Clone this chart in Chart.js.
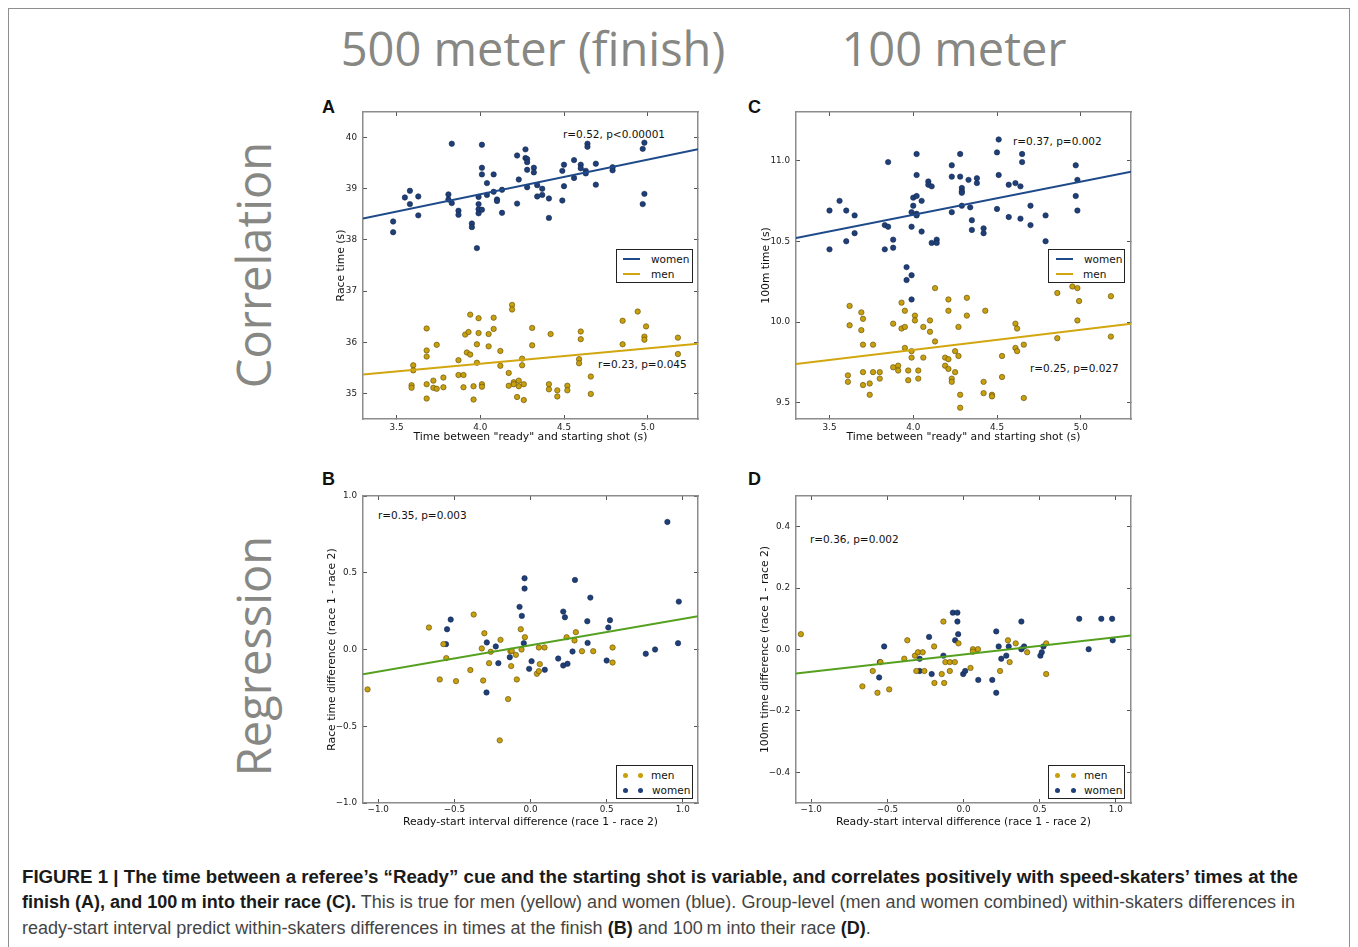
<!DOCTYPE html>
<html>
<head>
<meta charset="utf-8">
<title>Figure 1</title>
<script src="https://cdn.jsdelivr.net/npm/chart.js@4.4.1/dist/chart.umd.min.js"></script>
<style>
  html, body { margin: 0; padding: 0; background: #fff; }
  body { position: relative; width: 1358px; height: 947px; overflow: hidden; font-family: 'DejaVu Sans', sans-serif; }
  #frame { position: absolute; left: 8px; top: 8px; width: 1342px; height: 1000px; border: 1px solid #8e8e8e; box-sizing: border-box; }
  .big { position: absolute; font-family: 'Open Sans', sans-serif; font-size: 47px; line-height: 47px; color: #878784; white-space: nowrap; }
  .head { transform: translateX(-50%); }
  .rot { transform: translate(-50%, -50%) rotate(-90deg); }
  .letter { position: absolute; font-family: 'Liberation Sans', sans-serif; font-weight: bold; font-size: 18px; line-height: 18px; color: #111; }
  .note { position: absolute; font-size: 10.5px; line-height: 12px; color: #111; white-space: nowrap; }
  .legend { position: absolute; width: 77px; height: 34px; border: 1px solid #222; background: #fff; box-sizing: border-box; }
  .legend span { position: absolute; font-size: 10.5px; line-height: 12px; color: #111; white-space: nowrap; }
  .legend i { position: absolute; width: 17px; height: 0; border-top: 2px solid; }
  .legend b { position: absolute; width: 5px; height: 5px; border-radius: 50%; margin: -2.5px 0 0 -2.5px; }
  .cap { position: absolute; left: 22px; font-family: 'Liberation Sans Narrow', 'Liberation Sans', sans-serif; font-size: 17.5px; line-height: 20px; white-space: nowrap; color: #454545; transform-origin: 0 50%; }
  .cap b { color: #1a1a1a; }
  canvas { position: absolute; }
</style>
</head>
<body>
<div id="frame"></div>

<div class="big head" style="left:533px;top:25px">500 meter (finish)</div>
<div class="big head" style="left:954px;top:25px">100 meter</div>
<div class="big rot" style="left:253px;top:265px">Correlation</div>
<div class="big rot" style="left:253px;top:656px">Regression</div>

<div class="letter" style="left:322px;top:98px">A</div>
<div class="letter" style="left:748px;top:98px">C</div>
<div class="letter" style="left:322px;top:470px">B</div>
<div class="letter" style="left:748px;top:470px">D</div>

<div class="note" style="left:563px;top:128px">r=0.52, p&lt;0.00001</div>
<div class="note" style="left:598px;top:358px">r=0.23, p=0.045</div>
<div class="note" style="left:1013px;top:135px">r=0.37, p=0.002</div>
<div class="note" style="left:1030px;top:362px">r=0.25, p=0.027</div>
<div class="note" style="left:378px;top:509px">r=0.35, p=0.003</div>
<div class="note" style="left:810px;top:533px">r=0.36, p=0.002</div>

<div class="legend" style="left:616px;top:249px">
  <i style="left:6px;top:8px;border-color:#1f4a8a"></i><span style="left:34px;top:3px">women</span>
  <i style="left:6px;top:23px;border-color:#d1a60f"></i><span style="left:34px;top:18px">men</span>
</div>
<div class="legend" style="left:1048px;top:249px">
  <i style="left:7px;top:8px;border-color:#1f4a8a"></i><span style="left:35px;top:3px">women</span>
  <i style="left:7px;top:23px;border-color:#d1a60f"></i><span style="left:34px;top:18px">men</span>
</div>
<div class="legend" style="left:616px;top:765px">
  <b style="left:8px;top:9px;background:#c89f0c"></b><b style="left:23px;top:9px;background:#c89f0c"></b><span style="left:34px;top:3px">men</span>
  <b style="left:8px;top:24px;background:#1e3f78"></b><b style="left:23px;top:24px;background:#1e3f78"></b><span style="left:35px;top:18px">women</span>
</div>
<div class="legend" style="left:1048px;top:765px">
  <b style="left:8px;top:9px;background:#c89f0c"></b><b style="left:24px;top:9px;background:#c89f0c"></b><span style="left:35px;top:3px">men</span>
  <b style="left:8px;top:24px;background:#1e3f78"></b><b style="left:24px;top:24px;background:#1e3f78"></b><span style="left:35px;top:18px">women</span>
</div>

<div class="cap" style="top:867px"><b>FIGURE 1 | The time between a referee’s “Ready” cue and the starting shot is variable, and correlates positively with speed-skaters’ times at the</b></div>
<div class="cap" style="top:892px"><b>finish (A), and 100&#8201;m into their race (C).</b> This is true for men (yellow) and women (blue). Group-level (men and women combined) within-skaters differences in</div>
<div class="cap" style="top:918px">ready-start interval predict within-skaters differences in times at the finish <b>(B)</b> and 100&#8201;m into their race <b>(D)</b>.</div>

<script>
// ---- panel A: 500 m, correlation ----
const aWomenX = [3.48,3.48,3.55,3.58,3.58,3.63,3.63,3.81,3.81,3.83,3.83,3.87,3.87,3.95,3.95,3.98,3.99,3.99,3.99,3.99,4.01,4.01,4.01,4.01,4.04,4.04,4.08,4.08,4.10,4.10,4.13,4.13,4.22,4.23,4.22,4.27,4.27,4.28,4.28,4.28,4.28,4.32,4.32,4.34,4.34,4.37,4.37,4.41,4.41,4.49,4.49,4.50,4.50,4.56,4.56,4.60,4.60,4.63,4.63,4.64,4.64,4.69,4.69,4.79,4.79,4.97,4.98,4.98,4.97];
const aWomenY = [38.36,38.15,38.83,38.96,38.70,38.85,38.48,38.89,38.79,39.88,38.72,38.57,38.49,38.32,38.25,37.84,38.52,38.60,38.70,38.84,38.59,39.86,39.41,39.28,39.11,38.88,39.28,38.94,38.79,38.76,38.98,38.53,39.65,39.18,38.71,39.77,39.60,39.58,39.52,39.37,39.03,39.41,39.32,39.07,38.85,39.00,38.88,38.81,38.43,39.35,38.77,39.47,39.05,39.56,39.21,39.47,39.40,39.35,39.30,39.88,39.82,39.49,39.08,39.42,39.36,39.78,39.90,38.90,38.70];
const aMenX = [3.59,3.59,3.60,3.60,3.68,3.68,3.68,3.68,3.68,3.72,3.72,3.74,3.74,3.78,3.78,3.87,3.87,3.90,3.90,3.91,3.92,3.93,3.94,3.94,3.96,3.96,3.98,3.98,3.99,3.99,4.01,4.01,4.05,4.05,4.08,4.08,4.12,4.12,4.17,4.17,4.19,4.19,4.20,4.20,4.22,4.23,4.23,4.25,4.25,4.26,4.26,4.31,4.31,4.41,4.41,4.42,4.46,4.46,4.52,4.52,4.60,4.60,4.59,4.59,4.66,4.66,4.85,4.85,4.94,4.99,4.98,4.98,5.18,5.18];
const aMenY = [35.16,35.11,35.55,35.45,36.27,35.84,35.72,35.18,34.90,35.25,35.11,35.95,35.09,35.31,35.12,35.65,35.36,35.36,35.12,36.15,35.80,36.20,36.54,35.76,35.14,34.88,35.96,35.60,36.47,36.18,35.18,35.13,36.16,35.92,36.48,36.26,35.83,35.54,35.40,35.15,36.73,36.64,35.22,35.18,34.93,35.25,35.14,35.68,35.55,35.18,34.87,36.28,35.94,35.18,35.08,36.16,35.06,34.94,35.15,35.06,36.21,36.06,35.67,35.59,35.33,34.99,36.42,35.96,36.60,36.31,36.11,36.05,36.09,35.77];
const aFitX = [3.3, 5.3];
const aWomenFitY = [38.42, 39.77];
const aMenFitY = [35.37, 35.97];
const aXRange = [3.3, 5.3];
const aYRange = [34.5, 40.5];
const aXTicks = [3.5, 4.0, 4.5, 5.0];
const aYTicks = [35, 36, 37, 38, 39, 40];

// ---- panel C: 100 m, correlation ----
const cWomenX = [3.50,3.50,3.56,3.60,3.60,3.65,3.65,3.83,3.85,3.85,3.83,3.88,3.88,3.96,3.96,3.99,3.99,3.99,3.99,4.00,4.00,4.02,4.02,4.02,4.02,4.02,4.05,4.05,4.09,4.09,4.11,4.11,4.14,4.14,4.23,4.23,4.23,4.28,4.28,4.29,4.29,4.29,4.29,4.33,4.34,4.35,4.35,4.38,4.38,4.42,4.42,4.50,4.51,4.51,4.50,4.57,4.57,4.61,4.64,4.64,4.65,4.65,4.70,4.70,4.79,4.79,4.97,4.98,4.97,4.98];
const cWomenY = [10.69,10.45,10.75,10.69,10.50,10.66,10.55,10.60,10.99,10.59,10.45,10.51,10.46,10.34,10.26,10.29,10.14,10.68,10.59,10.77,10.72,11.04,10.91,10.78,10.67,10.66,10.75,10.56,10.87,10.85,10.84,10.49,10.51,10.49,10.68,10.97,10.90,11.04,10.90,10.83,10.81,10.80,10.72,10.88,10.71,10.63,10.57,10.89,10.86,10.58,10.55,11.05,11.13,10.91,10.70,10.85,10.65,10.86,10.84,10.64,11.04,10.99,10.72,10.60,10.66,10.50,10.97,10.88,10.78,10.69];
const cMenX = [3.62,3.62,3.61,3.61,3.69,3.70,3.69,3.70,3.70,3.70,3.74,3.74,3.76,3.76,3.80,3.80,3.88,3.88,3.91,3.91,3.93,3.93,3.95,3.95,3.95,3.97,3.97,3.99,3.99,4.01,4.01,4.03,4.03,4.06,4.06,4.10,4.10,4.13,4.13,4.19,4.19,4.21,4.21,4.21,4.21,4.23,4.23,4.25,4.25,4.27,4.27,4.28,4.28,4.32,4.32,4.43,4.42,4.42,4.47,4.47,4.53,4.53,4.61,4.62,4.61,4.62,4.66,4.66,4.86,4.86,4.95,4.98,4.99,4.98,5.18,5.18];
const cMenY = [10.10,9.98,9.67,9.63,10.06,10.02,9.95,9.86,9.69,9.61,9.62,9.55,9.86,9.69,9.69,9.65,9.99,9.72,9.73,9.70,10.12,9.96,10.07,9.97,9.84,9.70,9.64,9.82,9.78,10.04,10.01,9.70,9.65,9.97,9.78,10.01,9.94,9.88,10.21,9.78,9.73,10.14,10.07,9.77,9.71,9.65,9.63,9.82,9.69,9.97,9.79,9.55,9.47,10.15,10.04,10.07,9.63,9.56,9.55,9.54,9.79,9.66,9.99,9.96,9.84,9.82,9.86,9.53,10.18,9.90,10.22,10.21,10.13,10.01,10.16,9.91];
const cFitX = [3.3, 5.3];
const cWomenFitY = [10.52, 10.93];
const cMenFitY = [9.74, 9.99];
const cXRange = [3.3, 5.3];
const cYRange = [9.4, 11.3];
const cXTicks = [3.5, 4.0, 4.5, 5.0];
const cYTicks = [9.5, 10.0, 10.5, 11.0];

// ---- panel B: 500 m, regression ----
const bMenX = [-1.07,-0.667,-0.572,-0.553,-0.596,-0.489,-0.395,-0.373,-0.320,-0.311,-0.303,-0.272,-0.261,-0.197,-0.202,-0.147,-0.132,-0.127,-0.123,-0.096,-0.090,-0.064,-0.059,-0.037,0.042,0.055,0.055,0.061,0.092,0.237,0.289,0.298,0.338,0.412,0.539,0.539];
const bMenY = [-0.26,0.143,0.035,-0.056,-0.195,-0.206,-0.134,0.228,0.007,-0.202,0.106,-0.089,-0.015,0.063,-0.592,-0.323,-0.011,-0.108,-0.009,-0.035,-0.195,0.132,0.000,0.080,-0.158,0.013,-0.141,-0.095,0.013,0.080,0.059,0.113,-0.011,-0.011,0.013,-0.085];
const bWomenX = [-0.555,-0.548,-0.524,-0.287,-0.289,-0.228,-0.211,-0.136,-0.072,-0.057,-0.044,-0.039,-0.039,-0.009,0.007,0.094,0.182,0.215,0.226,0.215,0.243,0.276,0.292,0.373,0.375,0.393,0.500,0.511,0.522,0.757,0.818,0.899,0.974,0.969];
const bWomenY = [0.035,0.132,0.195,0.046,-0.280,0.020,-0.089,-0.050,0.278,0.219,0.041,0.464,0.397,-0.126,-0.076,-0.132,-0.059,0.247,0.210,-0.104,-0.093,-0.013,0.453,0.184,0.043,0.338,-0.072,0.143,0.191,-0.028,0.000,0.831,0.312,0.041];
const bFitX = [-1.1, 1.1];
const bFitY = [-0.162, 0.217];
const bXRange = [-1.1, 1.1];
const bYRange = [-1.0, 1.0];
const bXTicks = [-1.0, -0.5, 0, 0.5, 1.0];
const bYTicks = [-1.0, -0.5, 0, 0.5, 1.0];

// ---- panel D: 100 m, regression ----
const dMenX = [-1.068,-0.664,-0.596,-0.565,-0.545,-0.488,-0.389,-0.369,-0.319,-0.310,-0.299,-0.268,-0.257,-0.193,-0.191,-0.143,-0.132,-0.127,-0.119,-0.090,-0.090,-0.057,-0.033,0.046,0.062,0.062,0.095,0.240,0.292,0.303,0.343,0.418,0.543,0.543];
const dMenY = [0.050,-0.120,-0.070,-0.141,-0.041,-0.130,-0.030,0.030,-0.020,-0.070,-0.009,-0.009,-0.070,0.010,-0.109,-0.080,0.091,-0.109,-0.041,-0.041,-0.070,-0.041,0.020,-0.060,0.001,-0.007,0.001,-0.070,0.030,-0.041,0.020,-0.009,0.020,-0.080];
const dWomenX = [-0.521,-0.549,-0.554,-0.288,-0.288,-0.226,-0.209,-0.132,-0.070,-0.040,-0.040,-0.055,-0.035,-0.002,0.011,0.097,0.189,0.215,0.215,0.231,0.248,0.281,0.297,0.380,0.380,0.398,0.505,0.514,0.525,0.760,0.822,0.905,0.976,0.980];
const dWomenY = [0.010,-0.041,-0.091,-0.030,-0.070,0.041,-0.080,-0.020,0.120,0.120,0.091,0.030,0.050,-0.080,-0.070,-0.099,-0.099,0.059,-0.141,0.010,-0.030,-0.020,0.010,0.001,0.091,0.010,-0.020,-0.009,0.010,0.100,0.001,0.100,0.100,0.030];
const dFitX = [-1.1, 1.1];
const dFitY = [-0.078, 0.046];
const dXRange = [-1.1, 1.1];
const dYRange = [-0.5, 0.5];
const dXTicks = [-1.0, -0.5, 0, 0.5, 1.0];
const dYTicks = [-0.4, -0.2, 0, 0.2, 0.4];

const FONT = "'DejaVu Sans', sans-serif";
const BLUE = '#1e3f78';
const GOLD = '#c89f0c';
const TITLE_SIZE = 10.8;
const TICK_SIZE = 8.8;

const fmtInt = v => v.toFixed(0);
const fmtDec = v => (Math.abs(v) < 1e-9 ? 0 : v).toFixed(1).replace('-', '\u2212');

function dots(xs, ys, fill, edge) {
    return {
        data: xs.map((x, i) => ({ x: x, y: ys[i] })),
        backgroundColor: fill,
        borderColor: edge,
        borderWidth: 0.6,
        pointRadius: 2.7,
        order: 2
    };
}

function fitLine(xs, ys, color) {
    return {
        data: xs.map((x, i) => ({ x: x, y: ys[i] })),
        showLine: true,
        borderColor: color,
        borderWidth: 2,
        pointRadius: 0,
        order: 1
    };
}

function axis(pos, range, ticks, fmt, size, pad, title) {
    const horiz = pos === 'bottom' || pos === 'top';
    const main = pos === 'bottom' || pos === 'left';
    return {
        type: 'linear',
        axis: horiz ? 'x' : 'y',
        position: pos,
        min: range[0],
        max: range[1],
        afterBuildTicks: s => { s.ticks = ticks.map(v => ({ value: v })); },
        afterFit: s => {
            if (horiz) s.height = size; else s.width = size;
            s.paddingLeft = 0; s.paddingRight = 0; s.paddingTop = 0; s.paddingBottom = 0;
        },
        ticks: {
            display: main,
            autoSkip: false,
            maxRotation: 0,
            padding: pad,
            color: '#222',
            font: { family: FONT, size: TICK_SIZE },
            callback: v => fmt(v)
        },
        grid: { drawOnChartArea: false, drawTicks: true, tickLength: -4, tickColor: '#555', tickWidth: 1 },
        border: { display: true, color: '#8c8c8c', width: 1.5 },
        title: { display: main && !!title, text: title, color: '#111', padding: 0, font: { family: FONT, size: TITLE_SIZE } }
    };
}

function makePanel(p) {
    const half = TITLE_SIZE * 0.6;
    const left = Math.round(p.yTitleX - half);
    const top = p.plot[1] - 6;
    const right = p.plot[2] + 6;
    const bottom = Math.round(p.xTitleY + half);
    const cv = document.createElement('canvas');
    cv.width = right - left;
    cv.height = bottom - top;
    cv.style.left = left + 'px';
    cv.style.top = top + 'px';
    cv.style.width = (right - left) + 'px';
    cv.style.height = (bottom - top) + 'px';
    document.body.appendChild(cv);

    new Chart(cv, {
        type: 'scatter',
        data: { datasets: p.datasets },
        options: {
            responsive: false,
            animation: false,
            devicePixelRatio: 1,
            layout: { padding: 0 },
            plugins: { legend: { display: false }, tooltip: { enabled: false } },
            scales: {
                x: axis('bottom', p.xRange, p.xTicks, p.xFmt, bottom - p.plot[3], p.xPad, p.xTitle),
                x2: axis('top', p.xRange, p.xTicks, p.xFmt, 6, 0, ''),
                y: axis('left', p.yRange, p.yTicks, p.yFmt, p.plot[0] - left, 10, p.yTitle),
                y2: axis('right', p.yRange, p.yTicks, p.yFmt, 6, 0, '')
            }
        }
    });
}

const readyTitle = 'Time between "ready" and starting shot (s)';
const diffTitle = 'Ready-start interval difference (race 1 - race 2)';

makePanel({
    plot: [363, 112, 698, 419], yTitleX: 341.7, xTitleY: 437.3, xPad: 7.4,
    xRange: aXRange, yRange: aYRange, xTicks: aXTicks, yTicks: aYTicks, xFmt: fmtDec, yFmt: fmtInt,
    xTitle: readyTitle, yTitle: 'Race time (s)',
    datasets: [
        fitLine(aFitX, aWomenFitY, '#1f4a8a'),
        fitLine(aFitX, aMenFitY, '#d1a60f'),
        dots(aWomenX, aWomenY, BLUE, '#15294d'),
        dots(aMenX, aMenY, GOLD, '#5c4a08')
    ]
});

makePanel({
    plot: [796, 112, 1131, 419], yTitleX: 766.7, xTitleY: 437.3, xPad: 7.4,
    xRange: cXRange, yRange: cYRange, xTicks: cXTicks, yTicks: cYTicks, xFmt: fmtDec, yFmt: fmtDec,
    xTitle: readyTitle, yTitle: '100m time (s)',
    datasets: [
        fitLine(cFitX, cWomenFitY, '#1f4a8a'),
        fitLine(cFitX, cMenFitY, '#d1a60f'),
        dots(cWomenX, cWomenY, BLUE, '#15294d'),
        dots(cMenX, cMenY, GOLD, '#5c4a08')
    ]
});

makePanel({
    plot: [363, 496, 698, 803], yTitleX: 332.7, xTitleY: 822.3, xPad: 5.7,
    xRange: bXRange, yRange: bYRange, xTicks: bXTicks, yTicks: bYTicks, xFmt: fmtDec, yFmt: fmtDec,
    xTitle: diffTitle, yTitle: 'Race time difference (race 1 - race 2)',
    datasets: [
        fitLine(bFitX, bFitY, '#56a020'),
        dots(bMenX, bMenY, GOLD, '#5c4a08'),
        dots(bWomenX, bWomenY, BLUE, '#15294d')
    ]
});

makePanel({
    plot: [796, 496, 1131, 803], yTitleX: 765, xTitleY: 822.3, xPad: 5.7,
    xRange: dXRange, yRange: dYRange, xTicks: dXTicks, yTicks: dYTicks, xFmt: fmtDec, yFmt: fmtDec,
    xTitle: diffTitle, yTitle: '100m time difference (race 1 - race 2)',
    datasets: [
        fitLine(dFitX, dFitY, '#56a020'),
        dots(dMenX, dMenY, GOLD, '#5c4a08'),
        dots(dWomenX, dWomenY, BLUE, '#15294d')
    ]
});

// squeeze the caption lines to the width of the printed caption
const capLines = document.querySelectorAll('.cap');
const capW = Array.from(capLines).map(el => el.getBoundingClientRect().width);
const k1 = 1276 / capW[0];
const k2 = 1273 / capW[1];
capLines[0].style.transform = 'scaleX(' + k1 + ')';
capLines[1].style.transform = 'scaleX(' + k2 + ')';
capLines[2].style.transform = 'scaleX(' + k2 + ')';
</script>
</body>
</html>
